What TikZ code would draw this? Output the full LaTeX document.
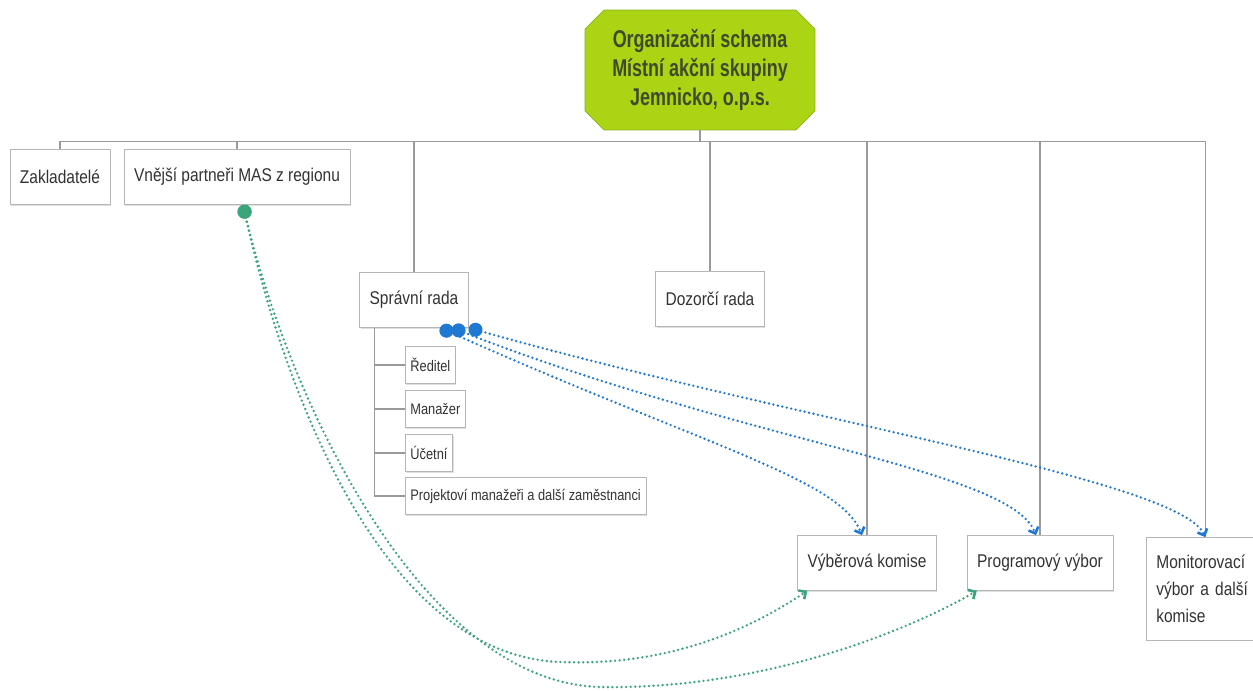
\documentclass[tikz,border=0pt]{standalone}
\usepackage{fontspec}
\setmainfont{Liberation Sans}[FakeStretch=0.84]
\newfontfamily\titlefont{Liberation Sans}[FakeStretch=0.74]
\usetikzlibrary{shapes.misc,arrows.meta,shadows}
\definecolor{limefill}{HTML}{AAD414}
\definecolor{limeline}{HTML}{8DB31B}
\definecolor{titletext}{HTML}{3E4A2B}
\definecolor{boxline}{HTML}{B5B5B5}
\definecolor{boxtext}{HTML}{333333}
\definecolor{linegray}{HTML}{9A9A9A}
\definecolor{flowblue}{HTML}{1F78D1}
\definecolor{flowgreen}{HTML}{3AA57A}
\tikzset{
  box/.style={draw=boxline, fill=white, text=boxtext, font=\fontsize{10.5}{13}\selectfont,
    minimum height=1.1cm, inner xsep=0.2cm,
    drop shadow={shadow xshift=0.6pt, shadow yshift=-0.6pt, opacity=0.25}},
  subbox/.style={box, font=\fontsize{8.7}{11}\selectfont, minimum height=0.74cm, inner xsep=0.1cm},
  titlebox/.style={chamfered rectangle, chamfered rectangle xsep=0.26cm,
    draw=limeline, fill=limefill, text=titletext, align=center,
    font=\titlefont\fontsize{13.8}{16.4}\selectfont\bfseries,
    minimum width=4.6cm, minimum height=2.4cm},
  link/.style={draw=linegray, line width=0.6pt},
  dots/.style={line width=1.5pt, line cap=round, dash pattern=on 0pt off 2.6pt},
  blueflow/.style={dots, flowblue, {Circle[length=8pt]}-{Straight Barb[length=3pt,width=6pt]}},
  greenflow/.style={dots, flowgreen, {Circle[length=8pt]}-{Straight Barb[length=3pt,width=6pt]}}
}
\begin{document}
\begin{tikzpicture}[x=0.02cm, y=-0.02cm]
    \useasboundingbox (0,0) rectangle (1253,690);
    \node[titlebox] (title) at (700,70) {Organizační schema\\Místní akční skupiny\\Jemnicko, o.p.s.};
    \node[box] (zakl) at (60,177) {Zakladatelé};
    \node[box] (partneri) at (237,177) {Vnější partneři MAS z regionu};
    \node[box] (sprava) at (414,300) {Správní rada};
    \node[box] (dozor) at (710,299) {Dozorčí rada};
    \node[subbox, anchor=west] (reditel) at (405,365) {Ředitel};
    \node[subbox, anchor=west] (manazer) at (405,409) {Manažer};
    \node[subbox, anchor=west] (ucetni) at (405,453) {Účetní};
    \node[subbox, anchor=west] (projekt) at (405,496) {Projektoví manažeři a další zaměstnanci};
    \node[box] (vyber) at (867,563) {Výběrová komise};
    \node[box] (program) at (1040,563) {Programový výbor};
    \node[box, anchor=north west, align=left, text width=1.95cm, minimum height=2.06cm,
      font=\fontsize{10.5}{15.3}\selectfont] (monitor) at (1146,537) {Monitorovací\\výbor a další\\komise};
    \foreach \n in {zakl,partneri,sprava,dozor,vyber,program,monitor}
      \draw[link] (title.south) -- ++(0,11) -| (\n.north);
    \coordinate (spine) at ([xshift=0.3cm]sprava.south west);
    \foreach \n in {reditel,manazer,ucetni,projekt}
      \draw[link] (spine) |- (\n.west);
    \draw[blueflow] ([xshift=0.52cm]sprava.south) .. controls +(270,120) and +(-22,-56) .. ([xshift=-0.1cm]vyber.north);
    \draw[blueflow] ([xshift=0.76cm]sprava.south) .. controls +(298,116) and +(-26,-66) .. ([xshift=-0.08cm]program.north);
    \draw[blueflow] (sprava.south east) .. controls +(330,93) and +(-25,-57) .. (monitor.north);
    \draw[greenflow] ([xshift=0.12cm]partneri.south) .. controls +(40,180) and +(-180,-7) .. (560,662)
      .. controls +(120,5) and +(-45,30) .. ([xshift=0.2cm]vyber.south west);
    \draw[greenflow] ([xshift=0.12cm]partneri.south) .. controls +(45,190) and +(-180,-5) .. (600,687)
      .. controls +(170,3) and +(-60,35) .. ([xshift=0.2cm]program.south west);
\end{tikzpicture}
\end{document}
